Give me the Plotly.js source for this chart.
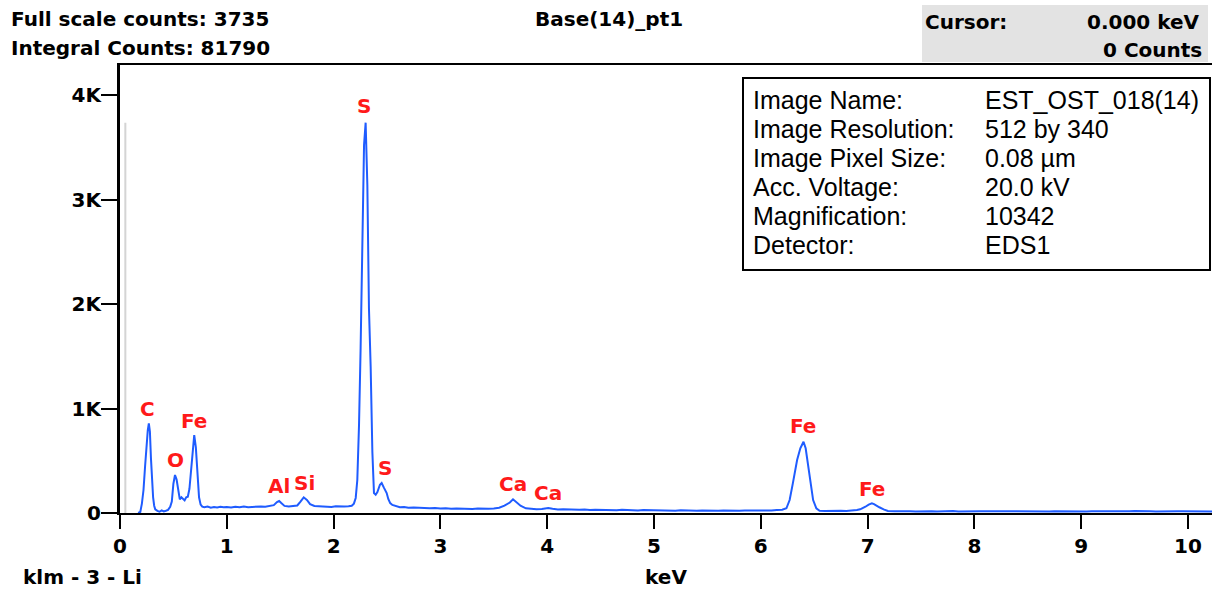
<!DOCTYPE html>
<html>
<head>
<meta charset="utf-8">
<script src="https://cdn.plot.ly/plotly-3.0.1.min.js"></script>
<style>html,body{margin:0;padding:0;background:#fff;}#chart{width:1212px;height:589px;}</style>
</head>
<body>
<div id="chart"></div>
<script>
// ---- data ----
const energyKeV = [
0.17,0.19,0.205,0.22,0.235,0.25,0.26,0.27,0.28,0.29,0.30,0.31,0.32,0.33,0.35,0.37,0.39,0.41,0.43,0.45,
0.47,0.485,0.50,0.515,0.53,0.545,0.56,0.575,0.59,0.605,0.62,0.635,0.65,0.665,0.68,0.695,0.71,0.725,0.74,0.755,
0.77,0.79,0.82,0.85,0.88,0.91,0.94,0.97,1.00,1.04,1.08,1.12,1.16,1.20,1.24,1.28,1.32,1.36,1.40,1.44,
1.47,1.49,1.51,1.54,1.58,1.62,1.66,1.69,1.72,1.75,1.78,1.82,1.86,1.90,1.94,1.98,2.02,2.06,2.10,2.14,
2.17,2.19,2.207,2.222,2.238,2.253,2.269,2.285,2.30,2.316,2.331,2.347,2.363,2.378,2.394,2.41,2.434,2.45,2.472,2.497,
2.512,2.53,2.55,2.58,2.62,2.66,2.70,2.75,2.80,2.85,2.90,2.95,3.00,3.05,3.10,3.15,3.20,3.25,3.30,3.35,
3.40,3.45,3.50,3.55,3.60,3.65,3.68,3.71,3.75,3.80,3.85,3.90,3.95,4.01,4.05,4.10,4.15,4.20,4.25,4.30,
4.35,4.40,4.45,4.50,4.55,4.60,4.65,4.70,4.75,4.80,4.85,4.90,4.95,5.00,5.05,5.10,5.15,5.20,5.25,5.30,
5.35,5.40,5.45,5.50,5.55,5.60,5.65,5.70,5.75,5.80,5.85,5.90,5.95,6.00,6.05,6.10,6.15,6.20,6.24,6.27,
6.30,6.34,6.37,6.40,6.42,6.445,6.467,6.49,6.52,6.55,6.60,6.65,6.70,6.75,6.80,6.85,6.90,6.93,6.96,6.98,
7.01,7.04,7.06,7.085,7.11,7.15,7.19,7.25,7.30,7.35,7.40,7.45,7.50,7.55,7.60,7.65,7.70,7.75,7.80,7.85,
7.90,7.95,8.00,8.05,8.10,8.15,8.20,8.25,8.30,8.35,8.40,8.45,8.50,8.55,8.60,8.65,8.70,8.75,8.80,8.85,
8.90,8.95,9.00,9.05,9.10,9.15,9.20,9.25,9.30,9.35,9.40,9.45,9.50,9.55,9.60,9.65,9.70,9.75,9.80,9.85,
9.90,9.95,10.00,10.05,10.10,10.15,10.20,10.25
];
const counts = [
0,10,90,220,450,680,790,858,780,520,290,150,70,35,20,12,25,15,22,30,
60,110,280,364,320,200,130,150,135,120,150,155,230,420,640,745,630,320,150,80,
60,55,62,50,58,52,60,55,58,52,60,55,62,56,60,58,63,60,65,75,
105,115,95,68,62,65,72,110,150,125,85,68,64,60,62,58,64,60,62,65,
70,90,144,316,842,1579,2469,3521,3735,3139,1962,1400,584,191,175,200,270,287,240,191,
134,95,77,65,55,58,50,52,48,50,45,48,42,46,40,44,40,42,38,42,
38,40,42,50,70,100,131,105,70,45,38,36,38,48,40,34,36,32,34,30,
33,28,32,30,28,31,27,30,26,29,25,28,26,24,26,23,25,22,26,23,
24,21,25,22,24,21,23,20,24,21,23,22,24,22,25,23,28,32,45,124,
284,507,619,682,619,443,252,124,45,22,20,22,19,21,20,22,28,35,48,60,
80,93,85,67,55,35,19,16,18,16,17,15,18,16,17,15,17,16,18,15,
17,16,15,17,16,18,15,17,16,15,17,16,18,15,17,16,15,17,16,18,
15,17,16,15,17,16,18,15,16,17,15,16,18,15,17,16,15,17,16,15,
17,16,15,17,16,15,16,15
];
const cursorEnergy = [0.05, 0.05];
const cursorCounts = [0, 3735];

const peakLabels = ["C","O","Fe","Al","Si","S","S","Ca","Ca","Fe","Fe"];
const peakLabelEnergy = [0.253,0.524,0.693,1.489,1.732,2.285,2.481,3.68,4.01,6.395,7.04];
const peakLabelCounts = [995,507,880,258,287,3895,431,278,191,833,230];

const yTickVals = [0,1000,2000,3000,4000];
const yTickText = ["0","1K","2K","3K","4K"];
const xTickVals = [0,1,2,3,4,5,6,7,8,9,10];

const infoLabels = ["Image Name:","Image Resolution:","Image Pixel Size:","Acc. Voltage:","Magnification:","Detector:"];
const infoValues = ["EST_OST_018(14)","512 by 340","0.08 µm","20.0 kV","10342","EDS1"];

const headerLeft = ["Full scale counts: 3735","Integral Counts: 81790"];
const chartTitle = "Base(14)_pt1";
const cursorLabel = "Cursor:";
const cursorValue = "0.000 keV";
const cursorCountText = "0 Counts";
const detectorText = "klm - 3 - Li";
const xTitle = "keV";

// ---- layout helpers (pixel -> paper) ----
const L = 120, R = 1212, T = 65, B = 513;
const px = x => (x - L) / (R - L);
const py = y => (B - y) / (B - T);

const boldFont = (size, color) => ({family: "DejaVu Sans", size: size, color: color || "#000", weight: "bold"});

const annotations = [];
for (let i = 0; i < peakLabels.length; i++) {
  annotations.push({x: peakLabelEnergy[i], y: peakLabelCounts[i], xref: "x", yref: "y",
    text: peakLabels[i], showarrow: false, xanchor: "center", yanchor: "middle",
    font: boldFont(20, "#ff1a1a")});
}
headerLeft.forEach((t, i) => annotations.push({x: px(9), y: py(19 + i * 29), xref: "paper", yref: "paper",
  text: t, showarrow: false, xanchor: "left", yanchor: "middle", font: boldFont(20)}));
annotations.push({x: px(609), y: py(19), xref: "paper", yref: "paper", text: chartTitle, showarrow: false,
  xanchor: "center", yanchor: "middle", font: boldFont(20)});
annotations.push({x: px(923), y: py(22), xref: "paper", yref: "paper", text: cursorLabel, showarrow: false,
  xanchor: "left", yanchor: "middle", font: boldFont(20)});
annotations.push({x: px(1202), y: py(22), xref: "paper", yref: "paper", text: cursorValue, showarrow: false,
  xanchor: "right", yanchor: "middle", font: boldFont(20)});
annotations.push({x: px(1204), y: py(50), xref: "paper", yref: "paper", text: cursorCountText, showarrow: false,
  xanchor: "right", yanchor: "middle", font: boldFont(20)});
annotations.push({x: px(21), y: py(577), xref: "paper", yref: "paper", text: detectorText, showarrow: false,
  xanchor: "left", yanchor: "middle", font: boldFont(20)});
infoLabels.forEach((t, i) => {
  annotations.push({x: px(751), y: py(100.5 + i * 28.8), xref: "paper", yref: "paper", text: t, showarrow: false,
    xanchor: "left", yanchor: "middle", font: {family: "Liberation Sans", size: 25, color: "#000"}});
  annotations.push({x: px(983), y: py(100.5 + i * 28.8), xref: "paper", yref: "paper", text: infoValues[i], showarrow: false,
    xanchor: "left", yanchor: "middle", font: {family: "Liberation Sans", size: 25, color: "#000"}});
});

const shapes = [
  {type: "rect", xref: "paper", yref: "paper", x0: px(922), x1: px(1208), y0: py(5), y1: py(62),
   fillcolor: "#e3e3e3", line: {width: 0}, layer: "below"},
  {type: "rect", xref: "paper", yref: "paper", x0: px(743), x1: px(1210), y0: py(78), y1: py(270),
   fillcolor: "#ffffff", line: {color: "#000", width: 2}, layer: "above"}
];

const traces = [
  {x: cursorEnergy, y: cursorCounts, type: "scatter", mode: "lines",
   line: {color: "#d4d4d4", width: 2}, hoverinfo: "skip", showlegend: false},
  {x: energyKeV, y: counts, type: "scatter", mode: "lines",
   line: {color: "#1f5cff", width: 2}, showlegend: false}
];

const layout = {
  width: 1212, height: 589,
  margin: {l: L, r: 1212 - R, t: T, b: 589 - B, pad: 0},
  paper_bgcolor: "#fff", plot_bgcolor: "#fff",
  showlegend: false,
  xaxis: {range: [0, (R - L) / 106.8], tickvals: xTickVals, ticks: "outside", ticklen: 14, tickwidth: 2,
    tickcolor: "#000", showline: true, linecolor: "#000", linewidth: 2, mirror: true,
    showgrid: false, zeroline: false, tickfont: boldFont(20),
    title: {text: xTitle, font: boldFont(20), standoff: 14}},
  yaxis: {range: [0, (B - T) / 0.1045], tickvals: yTickVals, ticktext: yTickText, ticks: "outside",
    ticklen: 16, tickwidth: 2, tickcolor: "#000", showline: true, linecolor: "#000", linewidth: 3,
    ticklabelstandoff: -4,
    mirror: false, showgrid: false, zeroline: false, tickfont: boldFont(20)},
  annotations: annotations,
  shapes: shapes
};

Plotly.newPlot("chart", traces, layout, {displayModeBar: false, staticPlot: true});
</script>
</body>
</html>
